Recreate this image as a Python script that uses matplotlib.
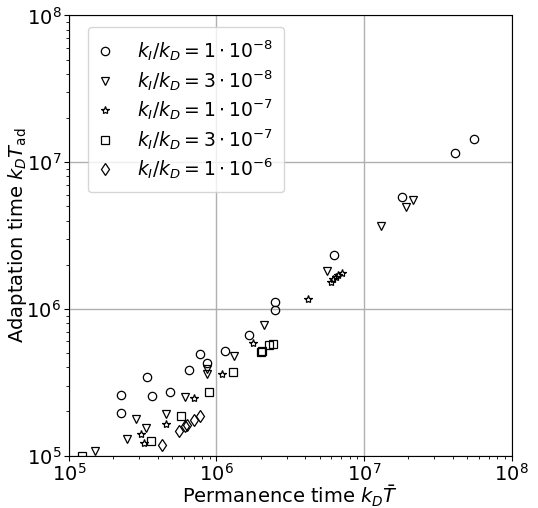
import matplotlib
matplotlib.use("Agg")
import matplotlib.pyplot as plt

# k_I/k_D = 1e-8 (circles)
x_c1 = [2.24e5, 2.24e5, 3.38e5, 3.67e5, 4.87e5, 6.5e5, 7.73e5, 8.67e5, 1.15e6, 1.66e6, 2.49e6, 2.49e6, 6.3e6, 1.80e7, 4.14e7, 5.57e7]
y_c1 = [2.58e5, 1.95e5, 3.42e5, 2.53e5, 2.69e5, 3.8e5, 4.96e5, 4.25e5, 5.15e5, 6.68e5, 9.86e5, 1.12e6, 2.32e6, 5.78e6, 1.15e7, 1.45e7]
# k_I/k_D = 3e-8 (triangles)
x_c2 = [1.5e5, 2.47e5, 2.85e5, 3.34e5, 4.52e5, 6.15e5, 8.63e5, 8.63e5, 1.31e6, 2.09e6, 5.6e6, 1.30e7, 1.92e7, 2.13e7]
y_c2 = [1.07e5, 1.29e5, 1.77e5, 1.55e5, 1.91e5, 2.49e5, 3.91e5, 3.58e5, 4.76e5, 7.8e5, 1.81e6, 3.67e6, 4.95e6, 5.54e6]
# k_I/k_D = 1e-7 (stars)
x_c3 = [3.08e5, 3.21e5, 4.57e5, 7.0e5, 1.09e6, 1.77e6, 4.15e6, 5.97e6, 6.19e6, 6.46e6, 6.7e6, 7.06e6]
y_c3 = [1.40e5, 1.22e5, 1.63e5, 2.46e5, 3.58e5, 5.83e5, 1.17e6, 1.52e6, 1.6e6, 1.64e6, 1.7e6, 1.75e6]
# k_I/k_D = 3e-7 (squares)
x_c4 = [1.22e5, 3.61e5, 5.71e5, 8.89e5, 1.30e6, 2.01e6, 2.05e6, 2.27e6, 2.42e6]
y_c4 = [0.99e5, 1.25e5, 1.85e5, 2.69e5, 3.69e5, 5.1e5, 5.15e5, 5.66e5, 5.78e5]
# k_I/k_D = 1e-6 (diamonds)
x_c5 = [4.25e5, 5.6e5, 6.1e5, 6.3e5, 7.03e5, 7.73e5]
y_c5 = [1.18e5, 1.46e5, 1.58e5, 1.62e5, 1.75e5, 1.85e5]

labels = [r'$k_I/k_D = 1\cdot10^{-8}$', r'$k_I/k_D = 3\cdot10^{-8}$',
          r'$k_I/k_D = 1\cdot10^{-7}$', r'$k_I/k_D = 3\cdot10^{-7}$',
          r'$k_I/k_D = 1\cdot10^{-6}$']
markers = ['o', 'v', '*', 's', 'd']
series = [(x_c1, y_c1), (x_c2, y_c2), (x_c3, y_c3), (x_c4, y_c4), (x_c5, y_c5)]

fig = plt.figure(figsize=(5.38, 5.08), dpi=100)
ax = fig.add_axes([0.128, 0.1033, 0.823, 0.8662])
for (xs, ys), m, lab in zip(series, markers, labels):
    ax.plot(xs, ys, linestyle='none', marker=m, markersize=6, markerfacecolor='none',
            markeredgecolor='black', markeredgewidth=0.9, label=lab)
ax.set_xscale('log')
ax.set_yscale('log')
ax.set_xlim(1e5, 1e8)
ax.set_ylim(1e5, 1e8)
ax.grid(True, which='major', color='#b0b0b0', linewidth=1)
ax.tick_params(axis='both', which='major', labelsize=14, pad=2)
ax.set_xlabel(r'Permanence time $k_D\bar{T}$', fontsize=14, labelpad=-1)
ax.set_ylabel(r'Adaptation time $k_D T_{\rm ad}$', fontsize=14, labelpad=-2)
ax.legend(loc='upper left', bbox_to_anchor=(0.0436, 0.9734), borderaxespad=0,
          fontsize=13.5, labelspacing=0.25, borderpad=0.6, handlelength=0.6,
          handletextpad=1.4)
fig.savefig('out.png', dpi=100)
